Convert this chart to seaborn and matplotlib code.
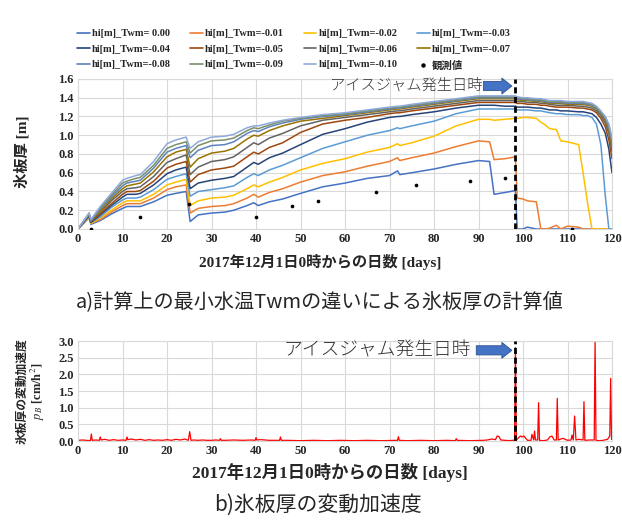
import pandas as pd
import numpy as np
import seaborn as sns
import matplotlib.pyplot as plt
from matplotlib.lines import Line2D

sns.set_theme(style='whitegrid')
plt.rcParams['font.family'] = ['Liberation Serif', 'Noto Sans CJK JP']
plt.rcParams['mathtext.fontset'] = 'stix'

CJK = ['Noto Sans CJK JP']
SERIF_CJK = ['Liberation Serif', 'Noto Sans CJK JP']

# ---- data ----
days = [0, 2.5, 2.9, 5, 7.5, 10, 11, 13, 14, 17, 20, 22, 24.3,
        25.2, 27, 30, 33, 35, 38, 39.5, 40.5, 43, 46,
        50, 55, 60, 65, 70, 71.8, 72.3, 75, 80, 85, 90,
        92.5, 93.5, 96, 98.3,
        98.7, 100, 101, 103, 104, 105, 106, 107.5, 108.5, 110, 112.5, 113.5,
        114.5, 115.5, 116.5, 117.5, 118.5, 119.3, 120]

hi_000 = [0, 0.12, 0.05, 0.09, 0.16, 0.22, 0.24, 0.24, 0.24, 0.29, 0.36, 0.38, 0.40,
          0.08, 0.15, 0.17, 0.18, 0.20, 0.25, 0.28, 0.25, 0.29, 0.32,
          0.38, 0.45, 0.49, 0.54, 0.57, 0.62, 0.58, 0.60, 0.64, 0.69, 0.73,
          0.72, 0.37, 0.39, 0.41,
          0.0, 0.0, 0.02, 0.0, 0.0, 0.0, 0.0, 0.0, 0.0, 0.0, 0.0, 0.0,
          0.0, 0.0, 0.0, 0.0, 0.0, 0.0, 0.0]
hi_001 = [0, 0.13, 0.06, 0.10, 0.18, 0.25, 0.27, 0.27, 0.27, 0.33, 0.42, 0.45, 0.47,
          0.17, 0.22, 0.24, 0.25, 0.27, 0.33, 0.37, 0.34, 0.39, 0.43,
          0.50, 0.57, 0.61, 0.67, 0.72, 0.76, 0.73, 0.76, 0.81, 0.88, 0.94,
          0.93, 0.74, 0.75, 0.77,
          0.33, 0.32, 0.30, 0.29, 0.0, 0.0, 0.01, 0.04, 0.0, 0.03, 0.02, 0.0,
          0.0, 0.0, 0.0, 0.0, 0.0, 0.0, 0.0]
hi_002 = [0, 0.13, 0.06, 0.12, 0.20, 0.28, 0.30, 0.30, 0.30, 0.37, 0.47, 0.50, 0.53,
          0.25, 0.30, 0.33, 0.34, 0.36, 0.43, 0.47, 0.45, 0.50, 0.55,
          0.63, 0.70, 0.75, 0.82, 0.87, 0.91, 0.89, 0.92, 0.99, 1.10, 1.17,
          1.17, 1.16, 1.17, 1.18,
          1.18, 1.19, 1.19, 1.18, 1.14, 1.11, 1.07, 1.06, 0.94, 0.93, 0.90, 0.60,
          0.28, 0.0, 0.0, 0.0, 0.0, 0.0, 0.0]
hi_003 = [0, 0.14, 0.07, 0.13, 0.23, 0.31, 0.33, 0.33, 0.34, 0.42, 0.53, 0.56, 0.59,
          0.35, 0.40, 0.42, 0.44, 0.46, 0.55, 0.59, 0.57, 0.63, 0.68,
          0.76, 0.86, 0.93, 1.00, 1.05, 1.08, 1.07, 1.10, 1.15, 1.23, 1.28,
          1.28, 1.28, 1.28, 1.28,
          1.27, 1.27, 1.27, 1.26, 1.26, 1.25, 1.24, 1.23, 1.23, 1.22, 1.22, 1.21,
          1.21, 1.19, 1.12, 0.90, 0.35, 0.0, 0.0]
hi_004 = [0, 0.14, 0.07, 0.15, 0.25, 0.34, 0.37, 0.37, 0.38, 0.47, 0.59, 0.63, 0.66,
          0.43, 0.49, 0.52, 0.54, 0.56, 0.66, 0.71, 0.69, 0.76, 0.81,
          0.90, 1.01, 1.07, 1.14, 1.19, 1.20, 1.20, 1.22, 1.25, 1.29, 1.32,
          1.32, 1.32, 1.31, 1.31,
          1.30, 1.30, 1.30, 1.29, 1.29, 1.28, 1.27, 1.27, 1.26, 1.26, 1.25, 1.25,
          1.24, 1.23, 1.19, 1.12, 1.02, 0.85, 0.60]
hi_005 = [0, 0.15, 0.08, 0.16, 0.27, 0.37, 0.40, 0.40, 0.41, 0.51, 0.65, 0.69, 0.72,
          0.50, 0.58, 0.63, 0.65, 0.67, 0.77, 0.82, 0.80, 0.87, 0.92,
          1.03, 1.12, 1.16, 1.19, 1.23, 1.24, 1.24, 1.26, 1.29, 1.32, 1.35,
          1.35, 1.35, 1.35, 1.35,
          1.34, 1.34, 1.33, 1.33, 1.32, 1.32, 1.31, 1.30, 1.30, 1.30, 1.29, 1.29,
          1.28, 1.27, 1.24, 1.18, 1.09, 0.95, 0.75]
hi_006 = [0, 0.15, 0.08, 0.18, 0.30, 0.40, 0.43, 0.44, 0.45, 0.56, 0.71, 0.75, 0.79,
          0.58, 0.66, 0.72, 0.74, 0.77, 0.87, 0.92, 0.90, 0.97, 1.02,
          1.10, 1.16, 1.19, 1.22, 1.25, 1.26, 1.26, 1.28, 1.31, 1.34, 1.37,
          1.37, 1.37, 1.37, 1.37,
          1.36, 1.36, 1.35, 1.35, 1.34, 1.34, 1.33, 1.32, 1.32, 1.32, 1.31, 1.31,
          1.30, 1.29, 1.26, 1.21, 1.13, 1.02, 0.83]
hi_007 = [0, 0.16, 0.09, 0.19, 0.32, 0.43, 0.46, 0.48, 0.49, 0.61, 0.77, 0.82, 0.85,
          0.66, 0.75, 0.81, 0.83, 0.86, 0.96, 1.00, 0.99, 1.05, 1.10,
          1.15, 1.18, 1.21, 1.24, 1.27, 1.28, 1.28, 1.30, 1.33, 1.36, 1.39,
          1.39, 1.39, 1.39, 1.39,
          1.38, 1.37, 1.37, 1.36, 1.36, 1.35, 1.34, 1.34, 1.34, 1.33, 1.33, 1.33,
          1.32, 1.31, 1.28, 1.23, 1.16, 1.06, 0.88]
hi_008 = [0, 0.16, 0.09, 0.21, 0.34, 0.46, 0.49, 0.51, 0.52, 0.65, 0.82, 0.86, 0.89,
          0.76, 0.84, 0.89, 0.90, 0.93, 1.02, 1.05, 1.04, 1.09, 1.13,
          1.17, 1.20, 1.22, 1.25, 1.28, 1.29, 1.29, 1.31, 1.34, 1.37, 1.40,
          1.40, 1.40, 1.40, 1.40,
          1.39, 1.38, 1.38, 1.37, 1.37, 1.36, 1.35, 1.35, 1.35, 1.34, 1.34, 1.34,
          1.33, 1.32, 1.29, 1.24, 1.18, 1.09, 0.92]
hi_009 = [0, 0.17, 0.10, 0.22, 0.36, 0.49, 0.51, 0.54, 0.55, 0.68, 0.86, 0.90, 0.93,
          0.81, 0.89, 0.94, 0.95, 0.97, 1.05, 1.08, 1.07, 1.11, 1.15,
          1.18, 1.21, 1.23, 1.26, 1.29, 1.30, 1.30, 1.32, 1.35, 1.38, 1.41,
          1.41, 1.41, 1.41, 1.41,
          1.40, 1.39, 1.39, 1.38, 1.38, 1.37, 1.36, 1.36, 1.36, 1.35, 1.35, 1.35,
          1.34, 1.33, 1.30, 1.25, 1.19, 1.11, 0.95]
hi_010 = [0, 0.17, 0.10, 0.24, 0.38, 0.52, 0.54, 0.57, 0.58, 0.72, 0.91, 0.95, 0.98,
          0.86, 0.93, 0.98, 0.99, 1.01, 1.08, 1.10, 1.10, 1.13, 1.16,
          1.19, 1.22, 1.24, 1.27, 1.30, 1.31, 1.31, 1.33, 1.36, 1.39, 1.42,
          1.42, 1.42, 1.42, 1.42,
          1.41, 1.40, 1.40, 1.39, 1.39, 1.38, 1.37, 1.37, 1.37, 1.36, 1.36, 1.36,
          1.35, 1.34, 1.31, 1.26, 1.20, 1.12, 0.97]

twm_labels = ['hi[m]_Twm= 0.00', 'hi[m]_Twm=-0.01', 'hi[m]_Twm=-0.02', 'hi[m]_Twm=-0.03',
              'hi[m]_Twm=-0.04', 'hi[m]_Twm=-0.05', 'hi[m]_Twm=-0.06', 'hi[m]_Twm=-0.07',
              'hi[m]_Twm=-0.08', 'hi[m]_Twm=-0.09', 'hi[m]_Twm=-0.10']
hi_series = [hi_000, hi_001, hi_002, hi_003, hi_004, hi_005,
             hi_006, hi_007, hi_008, hi_009, hi_010]
colors = ['#4472C4', '#ED7D31', '#FFC000', '#5B9BD5', '#264478', '#9E480E',
          '#636363', '#997300', '#5E82BE', '#7A8F66', '#8EA9DB']

# observed ice thickness
obs_days = [3, 14, 25, 40, 48, 54, 67, 76, 88, 96, 111]
obs_hi = [0.0, 0.13, 0.27, 0.125, 0.24, 0.30, 0.39, 0.47, 0.51, 0.54, 0.0]

# ice thickness variation acceleration p_B [cm/h^2]
pb_days = [0, 1, 2, 2.8, 3.0, 3.2, 4, 4.8, 5.0, 5.2, 6, 7, 8, 9, 10, 10.8, 11.0, 11.2,
           12, 13, 14, 15, 16, 17, 18, 19, 20, 21, 22, 23, 24, 24.8, 25.1, 25.4,
           26, 27, 28, 29, 30, 31, 31.8, 32.0, 32.2, 33, 35, 37, 39, 39.8, 40.0, 40.2,
           41, 43, 45.3, 45.5, 45.7, 47, 50, 53, 56, 59, 62, 65, 68, 71.8, 72.0, 72.2,
           74, 77, 80, 83, 84.8, 85.0, 85.2, 88, 91, 92, 93, 93.8, 94.2, 94.6, 95, 96,
           97, 97.6, 98.1, 98.3, 98.5, 99.4, 99.8, 100.2, 101, 101.8, 102.0, 102.4,
           102.6, 102.8, 103.3, 103.5, 103.7, 104.5, 105.5, 106, 106.5, 107, 107.5,
           107.7, 107.9, 108.5, 109, 110, 110.8, 111.0, 111.3, 111.6, 111.9, 112.5,
           113.5, 113.7, 113.9, 115, 116.0, 116.2, 116.4, 117, 118, 119, 119.5,
           119.7, 119.9, 120]
pb_vals = [0.02, 0.03, 0.02, 0.01, 0.21, 0.02, 0.03, 0.02, 0.12, 0.03, 0.05, 0.02, 0.04,
           0.02, 0.03, 0.02, 0.12, 0.04, 0.06, 0.03, 0.05, 0.02, 0.04, 0.02, 0.03, 0.02,
           0.04, 0.02, 0.05, 0.03, 0.06, 0.02, 0.28, 0.02, 0.03, 0.02, 0.03, 0.02, 0.02,
           0.03, 0.02, 0.07, 0.02, 0.02, 0.03, 0.02, 0.03, 0.02, 0.10, 0.03, 0.04, 0.02,
           0.02, 0.12, 0.02, 0.02, 0.01, 0.02, 0.01, 0.02, 0.01, 0.02, 0.01, 0.02, 0.13,
           0.02, 0.01, 0.02, 0.01, 0.02, 0.01, 0.07, 0.02, 0.01, 0.02, 0.03, 0.06, 0.04,
           0.15, 0.13, 0.03, 0.02, 0.01, 0.02, 0.02, 2.80, 0.03, 0.15, 0.12, 0.15, 0.02,
           0.02, 0.20, 0.03, 0.30, 0.03, 0.03, 1.15, 0.02, 0.01, 0.03, 0.12, 0.15, 0.03,
           0.03, 1.28, 0.03, 0.06, 0.08, 0.02, 0.03, 0.18, 0.03, 0.75, 0.03, 0.05, 0.03,
           1.18, 0.02, 0.03, 0.03, 3.05, 0.02, 0.01, 0.02, 0.05, 0.15, 1.88, 0.05, 0.08]

jam_day = 98.3

# ---- build long table ----
frames = [pd.DataFrame({'day': days, 'hi': vals, 'series': lab})
          for lab, vals in zip(twm_labels, hi_series)]
df = pd.concat(frames, ignore_index=True)
df_pb = pd.DataFrame({'day': pb_days, 'pb': pb_vals})

fig = plt.figure(figsize=(6.22, 5.22), dpi=100)
ax1 = fig.add_axes([78 / 622, 1 - 229 / 522, 534 / 622, 150 / 522])
ax2 = fig.add_axes([78 / 622, 1 - 441 / 522, 534 / 622, 100 / 522])

sns.lineplot(data=df, x='day', y='hi', hue='series', hue_order=twm_labels,
             palette=dict(zip(twm_labels, colors)), estimator=None, sort=False,
             lw=1.1, legend=False, ax=ax1)
sns.scatterplot(x=obs_days, y=obs_hi, color='black', s=7, linewidth=0, ax=ax1, zorder=5)

sns.lineplot(data=df_pb, x='day', y='pb', color='#FF0000', lw=0.9,
             estimator=None, sort=False, ax=ax2)

for ax, ymax, ystep in [(ax1, 1.6, 0.2), (ax2, 3.0, 0.5)]:
    ax.set_xlim(0, 120)
    ax.set_ylim(0, ymax)
    ax.set_xticks(np.arange(0, 121, 10))
    ax.set_yticks(np.arange(0, ymax + 0.01, ystep))
    ax.set_yticklabels(['%.1f' % v for v in np.arange(0, ymax + 0.01, ystep)])
    ax.tick_params(length=0, labelsize=9, pad=3)
    for lab in ax.get_xticklabels() + ax.get_yticklabels():
        lab.set_fontweight('bold')
    ax.grid(True, color='#D9D9D9', lw=0.8)
    for sp in ax.spines.values():
        sp.set_color('#D9D9D9')
        sp.set_linewidth(0.8)
    ax.set_xlabel('')
    ax.set_ylabel('')
    ax.axvline(jam_day, color='black', lw=2.0, ls=(0, (2.2, 1.3)), zorder=6)

# annotation: ice jam date
ax1.text(90.8, 1.525, 'アイスジャム発生日時', ha='right', va='center', fontsize=11,
         family=CJK, fontweight='light', color='#333333', clip_on=False)
ax1.annotate('', xy=(97.5, 1.525), xytext=(91.1, 1.525), annotation_clip=False,
             arrowprops=dict(arrowstyle='simple,head_length=0.6,head_width=0.95,tail_width=0.55',
                             fc='#4472C4', ec='#2F528F', lw=0.6, shrinkA=0, shrinkB=0))
ax2.text(88.4, 2.72, 'アイスジャム発生日時', ha='right', va='center', fontsize=13.5,
         family=CJK, fontweight='light', color='#333333', clip_on=False)
ax2.annotate('', xy=(97.5, 2.72), xytext=(89.5, 2.72), annotation_clip=False,
             arrowprops=dict(arrowstyle='simple,head_length=0.6,head_width=0.95,tail_width=0.55',
                             fc='#4472C4', ec='#2F528F', lw=0.6, shrinkA=0, shrinkB=0))

# axis labels
fig.text(22 / 622, 1 - 152 / 522, '氷板厚 [m]', rotation=90, ha='center', va='center',
         fontsize=11, fontweight='bold', family=SERIF_CJK)
fig.text(320 / 622, 1 - 262 / 522, '2017年12月1日0時からの日数 [days]', ha='center',
         va='center', fontsize=11, fontweight='bold', family=SERIF_CJK)
fig.text(22 / 622, 1 - 391 / 522, '氷板厚の変動加速度', rotation=90, ha='center',
         va='center', fontsize=8.5, fontweight='bold', family=CJK)
fig.text(38 / 622, 1 - 391 / 522, r'$p_B$ [cm/h$^2$]', rotation=90, ha='center',
         va='center', fontsize=9, fontweight='bold', family=SERIF_CJK)
fig.text(330 / 622, 1 - 473 / 522, '2017年12月1日0時からの日数 [days]', ha='center',
         va='center', fontsize=12.5, fontweight='bold', family=SERIF_CJK)

# captions
fig.text(320 / 622, 1 - 302 / 522, 'a)計算上の最小水温Twmの違いによる氷板厚の計算値',
         ha='center', va='center', fontsize=14.5, family=CJK)
fig.text(318 / 622, 1 - 505 / 522, 'b)氷板厚の変動加速度', ha='center', va='center',
         fontsize=15, family=CJK)

# legend (row-wise order like the original)
handles = [Line2D([], [], color=c, lw=1.2) for c in colors]
handles.append(Line2D([], [], color='black', marker='o', ls='', ms=2.2))
labels = twm_labels + ['観測値']
order = [0, 4, 8, 1, 5, 9, 2, 6, 10, 3, 7, 11]
fig.legend([handles[i] for i in order], [labels[i] for i in order],
           loc='upper left', bbox_to_anchor=(77 / 622, 1 - 29 / 522), ncol=4,
           frameon=False, prop=dict(family=SERIF_CJK, weight='bold', size=7.5),
           handlelength=1.2, handletextpad=0.2, columnspacing=1.9,
           labelspacing=0.6, borderaxespad=0, borderpad=0)

fig.savefig('out.png', dpi=100)
